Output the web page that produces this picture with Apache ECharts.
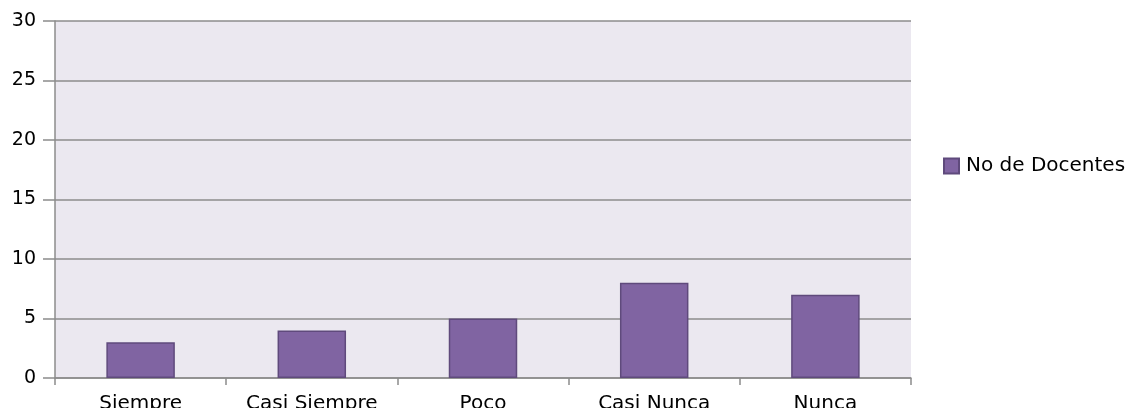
<!DOCTYPE html>
<html><head><meta charset="utf-8">
<script src="https://cdn.jsdelivr.net/npm/echarts@6/dist/echarts.min.js"></script>
<style>html,body{margin:0;padding:0;background:#fff}#c{width:1125px;height:408px}</style>
</head><body><div id="c"></div>
<script>
const categories = ["Siempre", "Casi Siempre", "Poco", "Casi Nunca", "Nunca"];
const docentes = [3, 4, 5, 8, 7];
const seriesName = "No de Docentes";

const chart = echarts.init(document.getElementById('c'));
chart.setOption({
  animation: false,
  backgroundColor: '#ffffff',
  textStyle: { fontFamily: 'DejaVu Sans' },
  legend: {
    data: [seriesName],
    orient: 'vertical',
    left: 943, top: 156, padding: 0,
    itemWidth: 15, itemHeight: 15, itemGap: 6,
    icon: 'rect',
    textStyle: { fontSize: 20, color: '#000', fontFamily: 'DejaVu Sans', padding: [0,0,0,2] }
  },
  grid: { left: 55, right: 214, top: 21, bottom: 30, outerBoundsMode: 'none', containLabel: false, show: true, backgroundColor: '#EBE8F0', borderWidth: 0 },
  xAxis: {
    type: 'category', data: categories,
    axisLine: { lineStyle: { color: '#8c8c8c', width: 1.5 } },
    axisTick: { show: true, length: 7, alignWithLabel: false, lineStyle: { color: '#8c8c8c', width: 1.5 } },
    axisLabel: { fontSize: 20, color: '#000', margin: 16, fontFamily: 'DejaVu Sans' }
  },
  yAxis: {
    type: 'value', min: 0, max: 30, interval: 5,
    axisLine: { show: true, lineStyle: { color: '#8c8c8c', width: 1.5 } },
    axisTick: { show: true, length: 12, lineStyle: { color: '#8c8c8c', width: 1.5 } },
    splitLine: { lineStyle: { color: '#8c8c8c', width: 1.5 } },
    axisLabel: { fontSize: 19, color: '#000', margin: 19, fontFamily: 'DejaVu Sans' }
  },
  series: [{
    name: seriesName, type: 'bar', data: docentes,
    barWidth: '40%',
    itemStyle: { color: '#8064A2', borderColor: '#5F4A7C', borderWidth: 1.5 }
  }]
});
</script></body></html>
